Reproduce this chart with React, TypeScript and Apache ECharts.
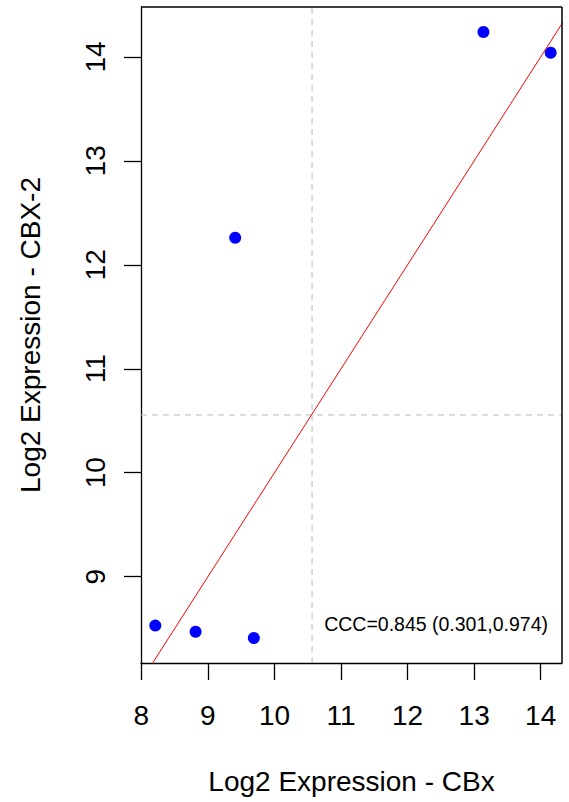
import React, { useEffect, useRef } from "react";
import * as echarts from "echarts";

const xValues = [8.21, 8.815, 9.69, 9.41, 13.14, 14.15];
const yValues = [8.53, 8.47, 8.41, 12.26, 14.24, 14.04];
const xTicks = [8, 9, 10, 11, 12, 13, 14];
const yTicks = [9, 10, 11, 12, 13, 14];
const xRange = [7.995, 14.32];
const yRange = [8.17, 14.48];
const meanX = 10.565;
const meanY = 10.556;
const cccLabel = "CCC=0.845 (0.301,0.974)";
const xTitle = "Log2 Expression - CBx";
const yTitle = "Log2 Expression - CBX-2";

const FONT = "'Liberation Sans', Arial, sans-serif";
const LINE = { color: "#000", width: 1.3 };
const GRID = { left: 141, top: 7, width: 421, height: 656 };

export default function App() {
  const ref = useRef<HTMLDivElement>(null);
  useEffect(() => {
    if (!ref.current) return;
    const chart = echarts.init(ref.current, undefined, { renderer: "svg" });
    const points = xValues.map((x, i) => [x, yValues[i]]);
    const lo = Math.min(xRange[0], yRange[0]);
    const hi = Math.max(xRange[1], yRange[1]);
    const L = GRID.left;
    const T = GRID.top;
    const R = GRID.left + GRID.width;
    const B = GRID.top + GRID.height;
    const frameStyle = { stroke: "#000", lineWidth: 1.5 };
    chart.setOption({
      animation: false,
      backgroundColor: "#ffffff",
      grid: { left: GRID.left, top: GRID.top, width: GRID.width, height: GRID.height },
      xAxis: {
        type: "value",
        min: xRange[0],
        max: xRange[1],
        name: xTitle,
        nameLocation: "middle",
        nameGap: 104,
        nameTextStyle: { fontFamily: FONT, fontSize: 28, color: "#000" },
        axisLine: { show: true, onZero: false, lineStyle: LINE },
        splitLine: { show: false },
        axisTick: { show: true, length: 17, lineStyle: LINE, customValues: xTicks },
        axisLabel: {
          fontFamily: FONT,
          fontSize: 28,
          color: "#000",
          margin: 38,
          customValues: xTicks,
          formatter: (v: number) => String(v),
        },
      },
      yAxis: {
        type: "value",
        min: yRange[0],
        max: yRange[1],
        name: yTitle,
        nameLocation: "middle",
        nameGap: 97,
        nameRotate: 90,
        nameTextStyle: { fontFamily: FONT, fontSize: 28, color: "#000" },
        axisLine: { show: true, onZero: false, lineStyle: LINE },
        splitLine: { show: false },
        axisTick: { show: true, length: 17, lineStyle: LINE, customValues: yTicks },
        axisLabel: {
          fontFamily: FONT,
          fontSize: 28,
          color: "#000",
          margin: 32,
          rotate: 90,
          customValues: yTicks,
          formatter: (v: number) => String(v),
        },
      },
      series: [
        {
          type: "line",
          data: [
            [meanX, yRange[0]],
            [meanX, yRange[1]],
          ],
          symbol: "none",
          lineStyle: { color: "#b8b8b8", width: 1, type: [6, 5] },
          silent: true,
        },
        {
          type: "line",
          data: [
            [xRange[0], meanY],
            [xRange[1], meanY],
          ],
          symbol: "none",
          lineStyle: { color: "#b8b8b8", width: 1, type: [6, 5] },
          silent: true,
        },
        {
          type: "line",
          data: [
            [lo, lo],
            [hi, hi],
          ],
          symbol: "none",
          clip: true,
          lineStyle: { color: "#ff0000", width: 1 },
          silent: true,
        },
        {
          type: "scatter",
          data: points,
          symbol: "circle",
          symbolSize: 12,
          itemStyle: { color: "#0000ff", opacity: 1 },
        },
      ],
      graphic: [
        { type: "line", silent: true, z: 10, shape: { x1: L, y1: T, x2: R, y2: T }, style: frameStyle },
        { type: "line", silent: true, z: 10, shape: { x1: R, y1: T, x2: R, y2: B }, style: frameStyle },
        {
          type: "text",
          right: 21,
          top: 614,
          style: {
            text: cccLabel,
            fontFamily: FONT,
            fontSize: 19.5,
            fill: "#000",
          },
        },
      ],
    });
    return () => chart.dispose();
  }, []);
  return (
    <div
      ref={ref}
      style={{ position: "absolute", left: 0, top: 0, width: 569, height: 802 }}
    />
  );
}
